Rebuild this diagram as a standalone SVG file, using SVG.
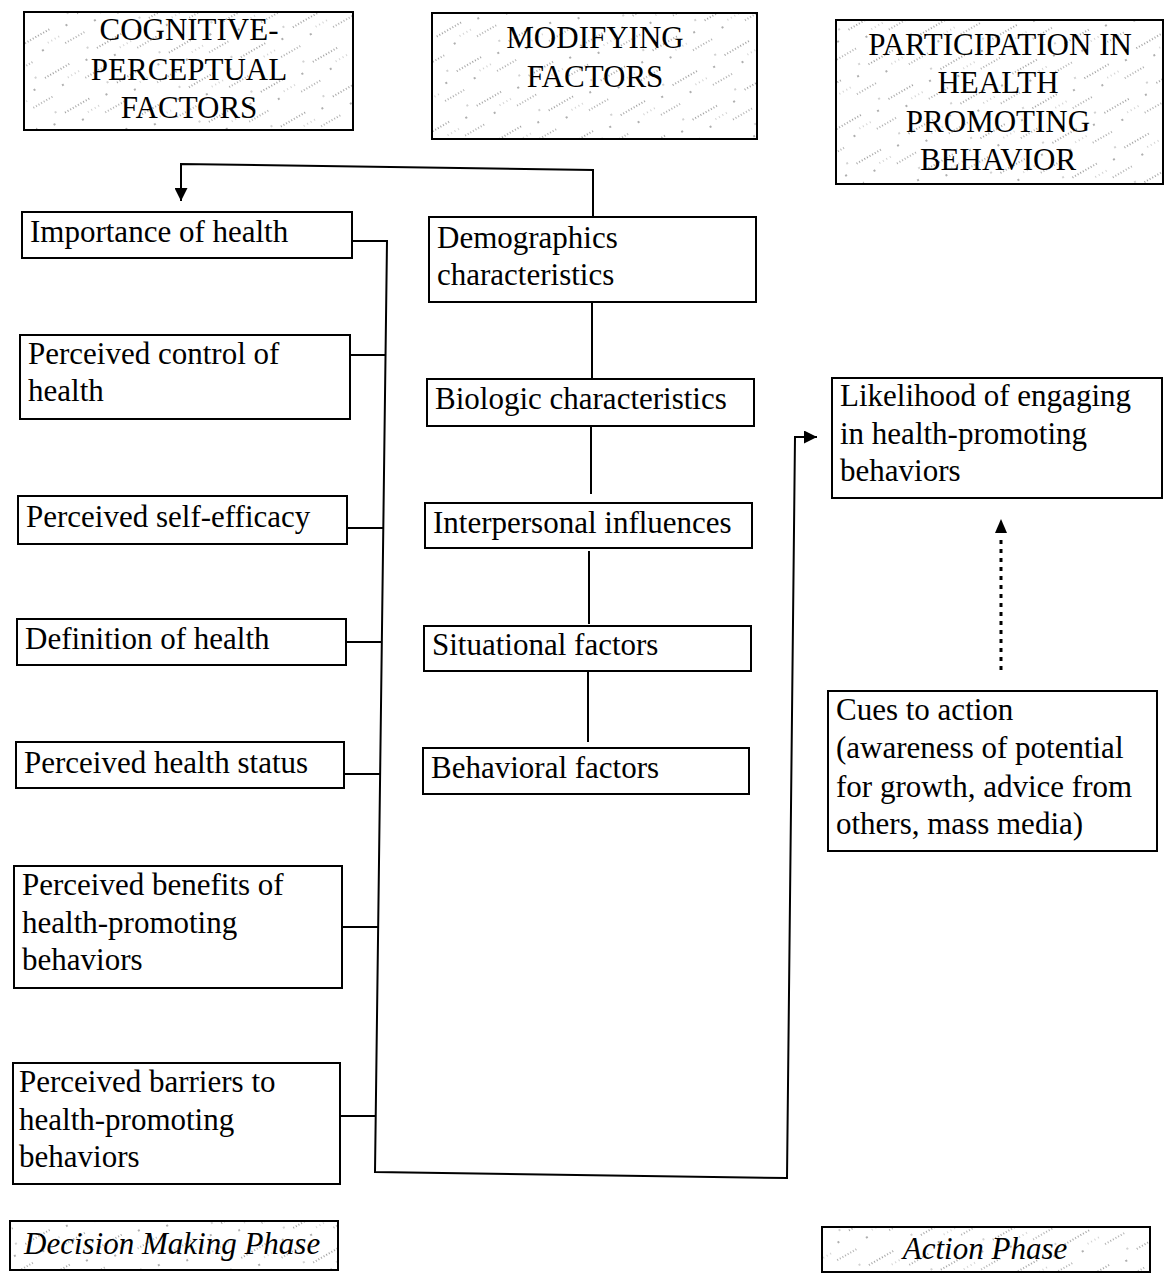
<svg xmlns="http://www.w3.org/2000/svg" width="1165" height="1273" viewBox="0 0 1165 1273">
<defs>
<style>
.box{fill:#fff;stroke:#000;stroke-width:2}
.hdr{fill:url(#stip);stroke:#000;stroke-width:2}
.t{font-family:"Liberation Serif","Times New Roman",serif;font-size:31px;fill:#000}
.h{font-family:"Liberation Serif","Times New Roman",serif;font-size:31px;fill:#000;text-anchor:middle}
.i{font-family:"Liberation Serif","Times New Roman",serif;font-size:31px;font-style:italic;fill:#000}
.c{fill:none;stroke:#000;stroke-width:2}
.d{fill:none;stroke:#000;stroke-width:3;stroke-dasharray:4 5}
</style>
<pattern id="stip" width="60" height="40" patternUnits="userSpaceOnUse" patternTransform="rotate(-30)">
<rect width="60" height="40" fill="#fff"/>
<line x1="0" y1="10" x2="30" y2="10" stroke="#888" stroke-width="1.3" stroke-dasharray="1 2"/>
<line x1="35" y1="30" x2="58" y2="30" stroke="#999" stroke-width="1.3" stroke-dasharray="1 2"/>
<line x1="20" y1="21" x2="34" y2="21" stroke="#aaa" stroke-width="1" stroke-dasharray="1 3"/>
<circle cx="45" cy="15" r="0.9" fill="#888"/>
<circle cx="12" cy="25" r="0.9" fill="#888"/>
<circle cx="52" cy="5" r="0.8" fill="#999"/>
</pattern>
<marker id="arr" viewBox="0 0 10 10" refX="10" refY="5" markerWidth="13" markerHeight="13" markerUnits="userSpaceOnUse" orient="auto">
<path d="M0,0 L10,5 L0,10 Z" fill="#000"/>
</marker>
</defs>
<rect width="1165" height="1273" fill="#fff"/>

<g id="connectors">
<path class="c" d="M593,218 L593,170 L181,164 L181,201" marker-end="url(#arr)"/>
<path class="c" d="M352,241 H387 L375,1172 L787,1178 L795,437 H817" marker-end="url(#arr)"/>
<path class="c" d="M350,355 H386"/>
<path class="c" d="M347,528 H384"/>
<path class="c" d="M346,642 H382"/>
<path class="c" d="M344,774 H380"/>
<path class="c" d="M342,927 H378"/>
<path class="c" d="M340,1116 H376"/>
<path class="c" d="M592,302 V378"/>
<path class="c" d="M591,417 V494"/>
<path class="c" d="M589,551 V624"/>
<path class="c" d="M588,665 V742"/>
<path class="d" d="M1001,670 V536"/>
<path d="M1001,519 L1007,533 L995,533 Z" fill="#000"/>
</g>

<g id="hdr-cognitive">
<rect class="hdr" x="24" y="12" width="329" height="118"/>
<text class="h" x="189" y="40">COGNITIVE-</text>
<text class="h" x="189" y="80">PERCEPTUAL</text>
<text class="h" x="189" y="118">FACTORS</text>
</g>
<g id="hdr-modifying">
<rect class="hdr" x="432" y="13" width="325" height="126"/>
<text class="h" x="595" y="48">MODIFYING</text>
<text class="h" x="595" y="87">FACTORS</text>
</g>
<g id="hdr-participation">
<rect class="hdr" x="836" y="20" width="327" height="164"/>
<text class="h" x="1000" y="55">PARTICIPATION IN</text>
<text class="h" x="998" y="93">HEALTH</text>
<text class="h" x="998" y="132">PROMOTING</text>
<text class="h" x="998" y="170">BEHAVIOR</text>
</g>

<g id="n-importance">
<rect class="box" x="22" y="212" width="330" height="46"/>
<text class="t" x="30" y="242">Importance of health</text>
</g>
<g id="n-control">
<rect class="box" x="20" y="335" width="330" height="84"/>
<text class="t" x="28" y="364">Perceived control of</text>
<text class="t" x="28" y="401">health</text>
</g>
<g id="n-efficacy">
<rect class="box" x="18" y="496" width="329" height="48"/>
<text class="t" x="26" y="527">Perceived self-efficacy</text>
</g>
<g id="n-definition">
<rect class="box" x="17" y="619" width="329" height="46"/>
<text class="t" x="25" y="649">Definition of health</text>
</g>
<g id="n-status">
<rect class="box" x="16" y="742" width="328" height="46"/>
<text class="t" x="24" y="773">Perceived health status</text>
</g>
<g id="n-benefits">
<rect class="box" x="14" y="866" width="328" height="122"/>
<text class="t" x="22" y="895">Perceived benefits of</text>
<text class="t" x="22" y="933">health-promoting</text>
<text class="t" x="22" y="970">behaviors</text>
</g>
<g id="n-barriers">
<rect class="box" x="13" y="1063" width="327" height="121"/>
<text class="t" x="19" y="1092">Perceived barriers to</text>
<text class="t" x="19" y="1130">health-promoting</text>
<text class="t" x="19" y="1167">behaviors</text>
</g>

<g id="n-demographics">
<rect class="box" x="429" y="217" width="327" height="85"/>
<text class="t" x="437" y="248">Demographics</text>
<text class="t" x="437" y="285">characteristics</text>
</g>
<g id="n-biologic">
<rect class="box" x="427" y="379" width="327" height="47"/>
<text class="t" x="435" y="409">Biologic characteristics</text>
</g>
<g id="n-interpersonal">
<rect class="box" x="425" y="503" width="327" height="45"/>
<text class="t" x="433" y="533">Interpersonal influences</text>
</g>
<g id="n-situational">
<rect class="box" x="424" y="626" width="327" height="45"/>
<text class="t" x="432" y="655">Situational factors</text>
</g>
<g id="n-behavioral">
<rect class="box" x="423" y="748" width="326" height="46"/>
<text class="t" x="431" y="778">Behavioral factors</text>
</g>

<g id="n-likelihood">
<rect class="box" x="832" y="378" width="330" height="120"/>
<text class="t" x="840" y="406">Likelihood of engaging</text>
<text class="t" x="840" y="444">in health-promoting</text>
<text class="t" x="840" y="481">behaviors</text>
</g>
<g id="n-cues">
<rect class="box" x="828" y="691" width="329" height="160"/>
<text class="t" x="836" y="720">Cues to action</text>
<text class="t" x="836" y="758">(awareness of potential</text>
<text class="t" x="836" y="797">for growth, advice from</text>
<text class="t" x="836" y="834">others, mass media)</text>
</g>

<g id="phase-decision">
<rect class="hdr" x="10" y="1221" width="328" height="49"/>
<text class="i" x="24" y="1254">Decision Making Phase</text>
</g>
<g id="phase-action">
<rect class="hdr" x="822" y="1227" width="328" height="45"/>
<text class="i" x="985" y="1259" text-anchor="middle">Action Phase</text>
</g>
</svg>
